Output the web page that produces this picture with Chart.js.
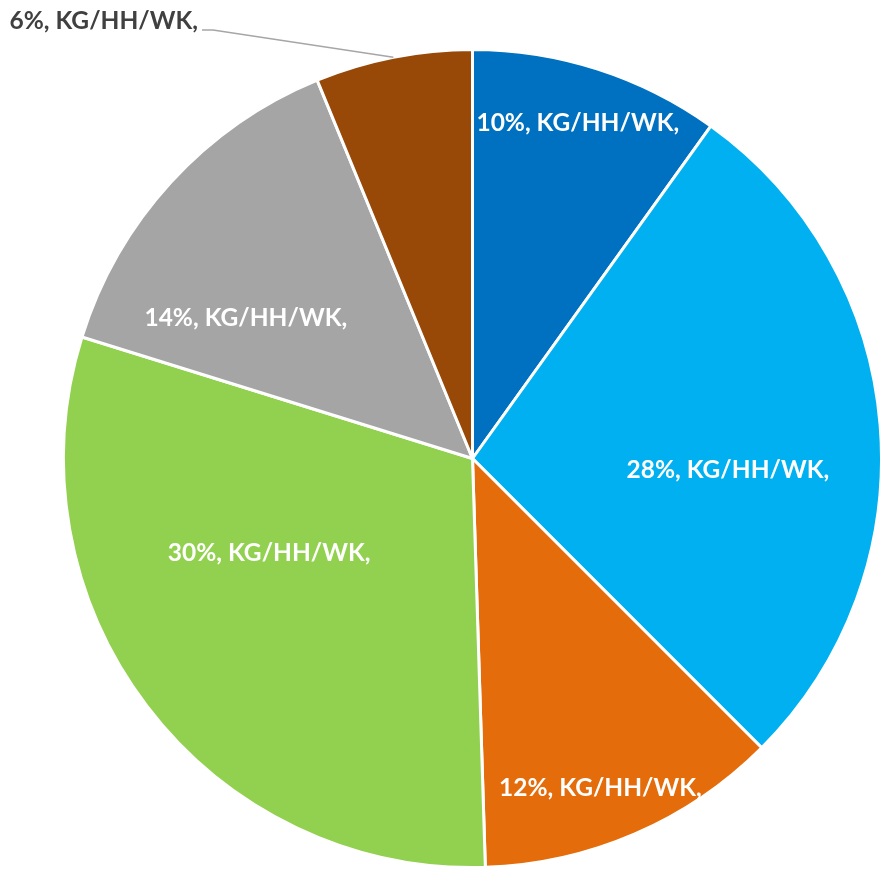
<!DOCTYPE html>
<html>
<head>
<meta charset="utf-8">
<script src="https://cdn.jsdelivr.net/npm/chart.js@4.4.1/dist/chart.umd.min.js"></script>
<style>
  html, body { margin: 0; padding: 0; background: #ffffff; }
  #wrap { width: 889px; height: 874px; position: relative; }
</style>
</head>
<body>
<div id="wrap"><canvas id="c" width="889" height="874"></canvas></div>
<script>
// ---- data ----
const categories = ["KG/HH/WK", "KG/HH/WK", "KG/HH/WK", "KG/HH/WK", "KG/HH/WK", "KG/HH/WK"];
const shares = [9.9, 27.6, 12.0, 30.3, 14.0, 6.2];
const colors = ["#0070C0", "#00B0F0", "#E46C0A", "#92D050", "#A5A5A5", "#984807"];

// label placement: [radius fraction, angle shift from slice middle (deg)], null = outside w/ leader
const labelPlacement = [[0.86, -0.4], [0.625, 7.2], [0.865, 2.2], [0.548, 12.4], [0.652, -10.7], null];

const labelPlugin = {
  id: 'sliceLabels',
  afterDatasetsDraw(chart) {
    const ctx = chart.ctx;
    const meta = chart.getDatasetMeta(0);
    const total = shares.reduce((a, b) => a + b, 0);
    ctx.save();
    ctx.font = 'bold 24.5px Lato, "Open Sans", sans-serif';
    ctx.textBaseline = 'middle';
    meta.data.forEach((arc, i) => {
      const p = arc.getProps(['x', 'y', 'startAngle', 'endAngle', 'outerRadius'], true);
      const text = Math.round(shares[i] / total * 100) + '%, ' + categories[i] + ',';
      const mid = (p.startAngle + p.endAngle) / 2;
      const place = labelPlacement[i];
      if (place) {
        const a = mid + place[1] * Math.PI / 180;
        const r = p.outerRadius * place[0];
        ctx.fillStyle = '#FFFFFF';
        ctx.textAlign = 'center';
        ctx.fillText(text, p.x + Math.cos(a) * r, p.y + Math.sin(a) * r);
      } else {
        const ex = p.x + Math.cos(mid) * p.outerRadius;
        const ey = p.y + Math.sin(mid) * p.outerRadius;
        const lx = 198, ly = 21;
        ctx.strokeStyle = '#A6A6A6';
        ctx.lineWidth = 1.3;
        ctx.beginPath();
        ctx.moveTo(ex, ey);
        ctx.lineTo(lx + 15, ly + 9);
        ctx.lineTo(lx + 4, ly + 9);
        ctx.stroke();
        ctx.fillStyle = '#404040';
        ctx.textAlign = 'right';
        ctx.fillText(text, lx, ly);
      }
    });
    ctx.restore();
  }
};

new Chart(document.getElementById('c'), {
  type: 'pie',
  data: {
    labels: categories,
    datasets: [{
      data: shares,
      backgroundColor: colors,
      borderColor: '#FFFFFF',
      borderWidth: 3
    }]
  },
  options: {
    responsive: false,
    animation: false,
    layout: { padding: { left: 62, right: 6, top: 47, bottom: 4 } },
    plugins: {
      legend: { display: false },
      tooltip: { enabled: false }
    }
  },
  plugins: [labelPlugin]
});
</script>
</body>
</html>
